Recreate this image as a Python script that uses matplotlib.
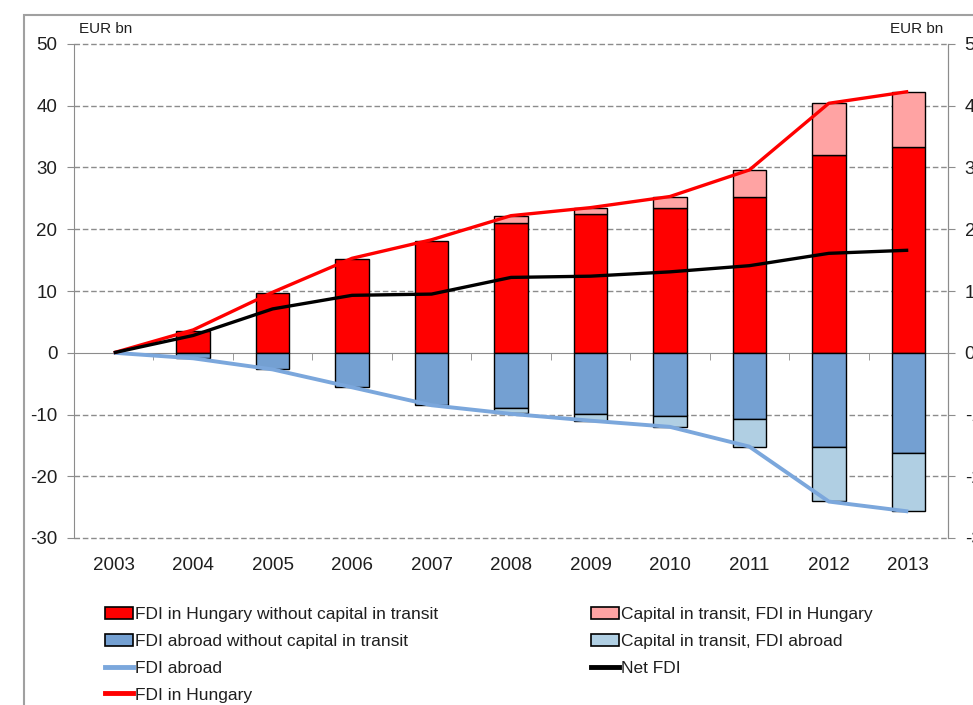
import numpy as np
import matplotlib.pyplot as plt
from matplotlib.patches import Patch, Rectangle
from matplotlib.lines import Line2D

plt.rcParams['font.family'] = ['Liberation Sans Narrow', 'Liberation Sans', 'DejaVu Sans']
plt.rcParams['axes.unicode_minus'] = False

# Data (EUR bn)
years = ['2003', '2004', '2005', '2006', '2007', '2008', '2009', '2010', '2011', '2012', '2013']
hu_ex_transit = [0, 3.6, 9.7, 15.2, 18.1, 21.0, 22.5, 23.5, 25.2, 32.0, 33.4]
hu_transit = [0, 0, 0, 0, 0, 1.1, 1.0, 1.8, 4.4, 8.4, 8.9]
ab_ex_transit = [0, -0.8, -2.6, -5.5, -8.5, -9.0, -9.9, -10.2, -10.7, -15.3, -16.3]
ab_transit = [0, 0, 0, 0, 0, -0.8, -1.1, -1.9, -4.6, -8.7, -9.3]
fdi_hungary = [0, 3.7, 9.8, 15.3, 18.3, 22.2, 23.5, 25.3, 29.6, 40.4, 42.3]
fdi_abroad = [0, -0.9, -2.7, -5.6, -8.5, -9.9, -11.0, -12.0, -15.2, -24.1, -25.7]
net_fdi = [0, 2.8, 7.1, 9.3, 9.5, 12.2, 12.4, 13.1, 14.1, 16.1, 16.6]

c_red = '#FF0000'
c_pink = '#FFA3A3'
c_blue = '#74A0D2'
c_lblue = '#B0CFE3'
c_bline = '#7BA7DC'
grid_c = '#8C8C8C'
txt_c = '#1F1F1F'

fig = plt.figure(figsize=(9.73, 7.05), dpi=100)
ax = fig.add_axes([74 / 973, 1 - 538 / 705, (948 - 74) / 973, (538 - 44) / 705])

x = np.arange(len(years))
w = 0.42

def lw_for(vals):
    return [1.0 if v != 0 else 0 for v in vals]

ax.bar(x, hu_ex_transit, w, color=c_red, edgecolor='black', linewidth=lw_for(hu_ex_transit), zorder=3)
ax.bar(x, hu_transit, w, bottom=hu_ex_transit, color=c_pink, edgecolor='black',
       linewidth=lw_for(hu_transit), zorder=3)
ax.bar(x, ab_ex_transit, w, color=c_blue, edgecolor='black', linewidth=lw_for(ab_ex_transit), zorder=3)
ax.bar(x, ab_transit, w, bottom=ab_ex_transit, color=c_lblue, edgecolor='black',
       linewidth=lw_for(ab_transit), zorder=3)

ax.plot(x, fdi_abroad, color=c_bline, lw=2.8, zorder=4, solid_capstyle='butt')
ax.plot(x, fdi_hungary, color=c_red, lw=2.4, zorder=5, solid_capstyle='butt')
ax.plot(x, net_fdi, color='black', lw=2.4, zorder=5, solid_capstyle='butt')

ax.set_xlim(-0.5, len(years) - 0.5)
ax.set_ylim(-30, 50)
yt = np.arange(-30, 51, 10)
ax.set_yticks(yt)
for v in yt:
    if v != 0:
        ax.axhline(v, color=grid_c, lw=1, ls=(0, (4, 2)), zorder=1, clip_on=False)

ax.spines['top'].set_visible(False)
ax.spines['bottom'].set_position(('data', 0))
ax.spines['bottom'].set_color(grid_c)
ax.spines['bottom'].set_zorder(2)
ax.spines['left'].set_color(grid_c)
ax.spines['right'].set_color(grid_c)

ax.set_xticks(x)
ax.set_xticklabels([])
ax.tick_params(axis='x', which='major', length=0)
ax.set_xticks(np.arange(len(years) + 1) - 0.5, minor=True)
ax.tick_params(axis='x', which='minor', length=5, color=grid_c, direction='out')

ax.tick_params(axis='y', length=5, color=grid_c, labelsize=13.5, labelcolor=txt_c, pad=7)

ax2 = ax.twinx()
ax2.set_ylim(-30, 50)
ax2.set_yticks(yt)
for s in ['top', 'bottom', 'left']:
    ax2.spines[s].set_visible(False)
ax2.spines['right'].set_color(grid_c)
ax2.tick_params(axis='y', length=5, color=grid_c, labelsize=13.5, labelcolor=txt_c, pad=7)

sec = ax.secondary_xaxis(0.0)
sec.set_xticks(x)
sec.set_xticklabels(years)
sec.tick_params(length=0, labelsize=13.5, labelcolor=txt_c, pad=14)
sec.spines['bottom'].set_visible(False)

fig.text(79 / 973, 1 - 29 / 705, 'EUR bn', fontsize=11, color=txt_c, ha='left', va='center')
fig.text(943 / 973, 1 - 29 / 705, 'EUR bn', fontsize=11, color=txt_c, ha='right', va='center')

# outer frame
fig.patches.append(Rectangle((24 / 973, -0.1), 2, 1 - 15 / 705 + 0.1, transform=fig.transFigure,
                             fill=False, edgecolor='#A0A0A0', lw=1.5))

h1 = [Patch(facecolor=c_red, edgecolor='black', lw=1.2),
      Patch(facecolor=c_blue, edgecolor='black', lw=1.2),
      Line2D([], [], color=c_bline, lw=3.5),
      Line2D([], [], color=c_red, lw=3.5)]
l1 = ['FDI in Hungary without capital in transit', 'FDI abroad without capital in transit',
      'FDI abroad', 'FDI in Hungary']
h2 = [Patch(facecolor=c_pink, edgecolor='black', lw=1.2),
      Patch(facecolor=c_lblue, edgecolor='black', lw=1.2),
      Line2D([], [], color='black', lw=3.5)]
l2 = ['Capital in transit, FDI in Hungary', 'Capital in transit, FDI abroad', 'Net FDI']

kw = dict(frameon=False, fontsize=12.5, handlelength=1.6, handleheight=0.7, handletextpad=0.1,
          labelspacing=0.67, borderpad=0, borderaxespad=0, labelcolor=txt_c)
fig.legend(h1, l1, loc='upper left', bbox_to_anchor=(105 / 973, 1 - 607 / 705), **kw)
fig.legend(h2, l2, loc='upper left', bbox_to_anchor=(591 / 973, 1 - 607 / 705), **kw)

fig.savefig('out.png', dpi=100)
